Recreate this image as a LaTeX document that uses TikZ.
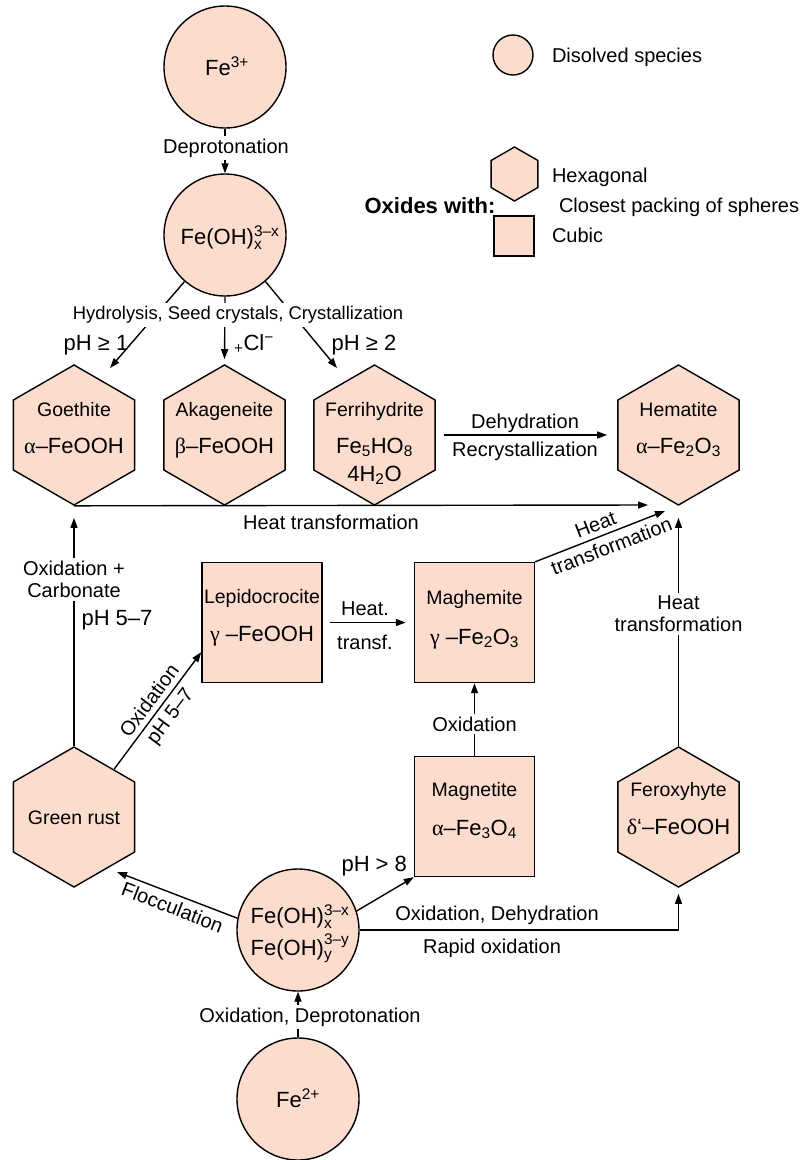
\documentclass[tikz,border=0pt]{standalone}
\usepackage{amsmath}
\usepackage{fontspec}
\setmainfont{Liberation Sans}
\newfontfamily\greekfont{Liberation Serif}
\usetikzlibrary{positioning}
\usetikzlibrary{shapes.geometric}
\usetikzlibrary{arrows.meta}
\RequirePackage{xcolor}
\definecolor{OXpeach}{HTML}{FBDCCD}

\newcommand{\grk}[1]{{\greekfont #1}}

\begin{document}
\begin{tikzpicture}[x=1pt,y=-1pt,line width=1.4pt,>={Triangle[length=10pt,width=7pt]},
  species/.style={circle,draw,fill=OXpeach,minimum size=122pt,inner sep=0pt},
  hexa/.style={regular polygon,regular polygon sides=6,shape border rotate=30,draw,fill=OXpeach,minimum size=140pt,inner sep=0pt},
  cubic/.style={rectangle,draw,fill=OXpeach,minimum size=120pt,inner sep=0pt},
  mineral/.style={font=\fontsize{19.5}{22}\selectfont,anchor=base,yshift=-7pt},
  formula/.style={font=\fontsize{22}{26}\selectfont,anchor=base,yshift=-8pt},
  lbl/.style={font=\fontsize{20}{23}\selectfont,anchor=base,yshift=-7pt},
  along/.style={font=\fontsize{20}{23}\selectfont,inner sep=5pt},
  gap/.style={font=\fontsize{20}{22}\selectfont,fill=white,align=center,inner sep=3pt}]

\useasboundingbox (0,0) rectangle (808,1160);

% Legend
\node[species,minimum size=40pt] (legSpecies) at (513,55) {};
\node[lbl,anchor=base west] (legSpeciesTxt) at (548,55) {Disolved species};
\node[hexa,minimum size=54pt] (legHexa) at (514.5,174) {};
\node[lbl,anchor=base west] (legHexaTxt) at (548,175) {Hexagonal};
\node[lbl,anchor=base west] (legPacking) at (555,205) {Closest packing of spheres};
\node[cubic,minimum size=40pt] (legCubic) at (514,236) {};
\node[lbl,anchor=base west] (legCubicTxt) at (548,235) {Cubic};
\node[formula,font=\fontsize{22}{26}\selectfont\bfseries] (legOxides) at (430,205) {Oxides with:};

% Dissolved species
\node[species] (fe3) at (225,67) {};
\node[formula] (fe3Txt) at (227,67) {Fe\textsuperscript{3+}};
\node[species] (feoh) at (225,235) {};
\node[formula] (feohTxt) at (230,236) {Fe(OH)$^{\text{3–x}}_{\text{x}}$};
\node[species] (feohMix) at (298,930) {};
\node[formula] (feohMixX) at (300,915) {Fe(OH)$^{\text{3–x}}_{\text{x}}$};
\node[formula] (feohMixY) at (300,947) {Fe(OH)$^{\text{3–y}}_{\text{y}}$};
\node[species] (fe2) at (298,1099) {};
\node[formula] (fe2Txt) at (298,1099) {Fe\textsuperscript{2+}};

% Hexagonal oxides
\node[hexa] (goethite) at (74,435) {};
\node[mineral] at (74,409) {Goethite};
\node[formula] at (74,445) {\grk{α}–FeOOH};

\node[hexa] (akageneite) at (224.5,435) {};
\node[mineral] at (224.5,409) {Akageneite};
\node[formula] at (224.5,445) {\grk{β}–FeOOH};

\node[hexa] (ferrihydrite) at (374.5,435) {};
\node[mineral] at (374.5,409) {Ferrihydrite};
\node[formula] at (374.5,445) {Fe\textsubscript{5}HO\textsubscript{8}};
\node[formula] at (374.5,473) {4H\textsubscript{2}O};

\node[hexa] (hematite) at (678.5,435) {};
\node[mineral] at (678.5,409) {Hematite};
\node[formula] at (678.5,445) {\grk{α}–Fe\textsubscript{2}O\textsubscript{3}};

\node[hexa] (greenrust) at (74,817) {};
\node[mineral] at (74,817) {Green rust};

\node[hexa] (feroxyhyte) at (678.5,817) {};
\node[mineral] at (678.5,789) {Feroxyhyte};
\node[formula] at (678.5,826) {\grk{δ}‘–FeOOH};

% Cubic oxides
\node[cubic] (lepidocrocite) at (262,622.5) {};
\node[mineral] at (262,596) {Lepidocrocite};
\node[formula] at (262,633) {\grk{γ} –FeOOH};

\node[cubic] (maghemite) at (474.5,622.5) {};
\node[mineral] at (474.5,597) {Maghemite};
\node[formula] at (474.5,636) {\grk{γ} –Fe\textsubscript{2}O\textsubscript{3}};

\node[cubic] (magnetite) at (474.5,816.5) {};
\node[mineral] at (474.5,789) {Magnetite};
\node[formula] at (474.5,827) {\grk{α}–Fe\textsubscript{3}O\textsubscript{4}};

% Free arrow ends
\coordinate (goeTip) at (110,368);
\coordinate (ferTip) at (337,368);
\coordinate (hemTip) at (648,505);
\coordinate (hemTipB) at (665,511);
\coordinate (greenTip) at (117,872);

% Transformations
\draw[->] (fe3.south) -- (feoh.north);
\node[gap] at (226,148) {Deprotonation};

\draw[->] (feoh.229) -- (goeTip);
\draw[->,shorten >=5pt] (feoh.south) -- (akageneite.north);
\draw[->] (feoh.311) -- (ferTip);
\node[gap,font=\fontsize{18.4}{22}\selectfont] at (238,315) {Hydrolysis, Seed crystals, Crystallization};
\node[formula] at (96,342) {pH ≥ 1};
\node[formula] at (254,342) {\textsubscript{+}Cl\textsuperscript{−}};
\node[formula] at (364,342) {pH ≥ 2};

\draw[->,shorten <=8pt,shorten >=10pt] (ferrihydrite.east) -- (hematite.west);
\node[lbl] at (525,421) {Dehydration};
\node[lbl] at (525,449) {Recrystallization};

\draw[->] (goethite.south) -- (hemTip);
\node[lbl] at (331,522) {Heat transformation};

\draw[->,shorten >=12pt] (greenrust.north) -- (goethite.south);
\node[gap] at (74,579.5) {Oxidation +\\Carbonate};
\node[formula] at (117,617) {pH 5–7};

\draw[->] (greenrust.50) -- (lepidocrocite.206)
  node[pos=0.52,sloped,above,along] {Oxidation}
  node[pos=0.52,sloped,below,along] {pH 5–7};

\draw[->,shorten <=7pt,shorten >=8pt] (lepidocrocite.east) -- (maghemite.west);
\node[lbl] at (365,608) {Heat.};
\node[lbl] at (365,642) {transf.};

\draw[->] (magnetite.north) -- (maghemite.south);
\node[gap] at (474.5,724) {Oxidation};

\draw[->] (maghemite.north east) -- (hemTipB)
  node[pos=0.5,sloped,above,along] {Heat}
  node[pos=0.55,sloped,below,along] {transformation};

\draw[->,shorten >=12pt] (feroxyhyte.north) -- (hematite.south);
\node[gap] at (678.5,614) {Heat\\transformation};

\draw[->] (feohMix.169) -- (greenTip)
  node[midway,sloped,below,along] {Flocculation};

\draw[->] (feohMix.18) -- (magnetite.south west);
\node[formula,anchor=base east] at (411,863) {pH > 8};

\draw[->,shorten >=6pt] (feohMix.east) -| (feroxyhyte.south);
\node[lbl] at (497,913) {Oxidation, Dehydration};
\node[lbl] at (492,946) {Rapid oxidation};

\draw[->] (fe2.north) -- (feohMix.south);
\node[gap] at (310,1017) {Oxidation, Deprotonation};

\end{tikzpicture}
\end{document}
